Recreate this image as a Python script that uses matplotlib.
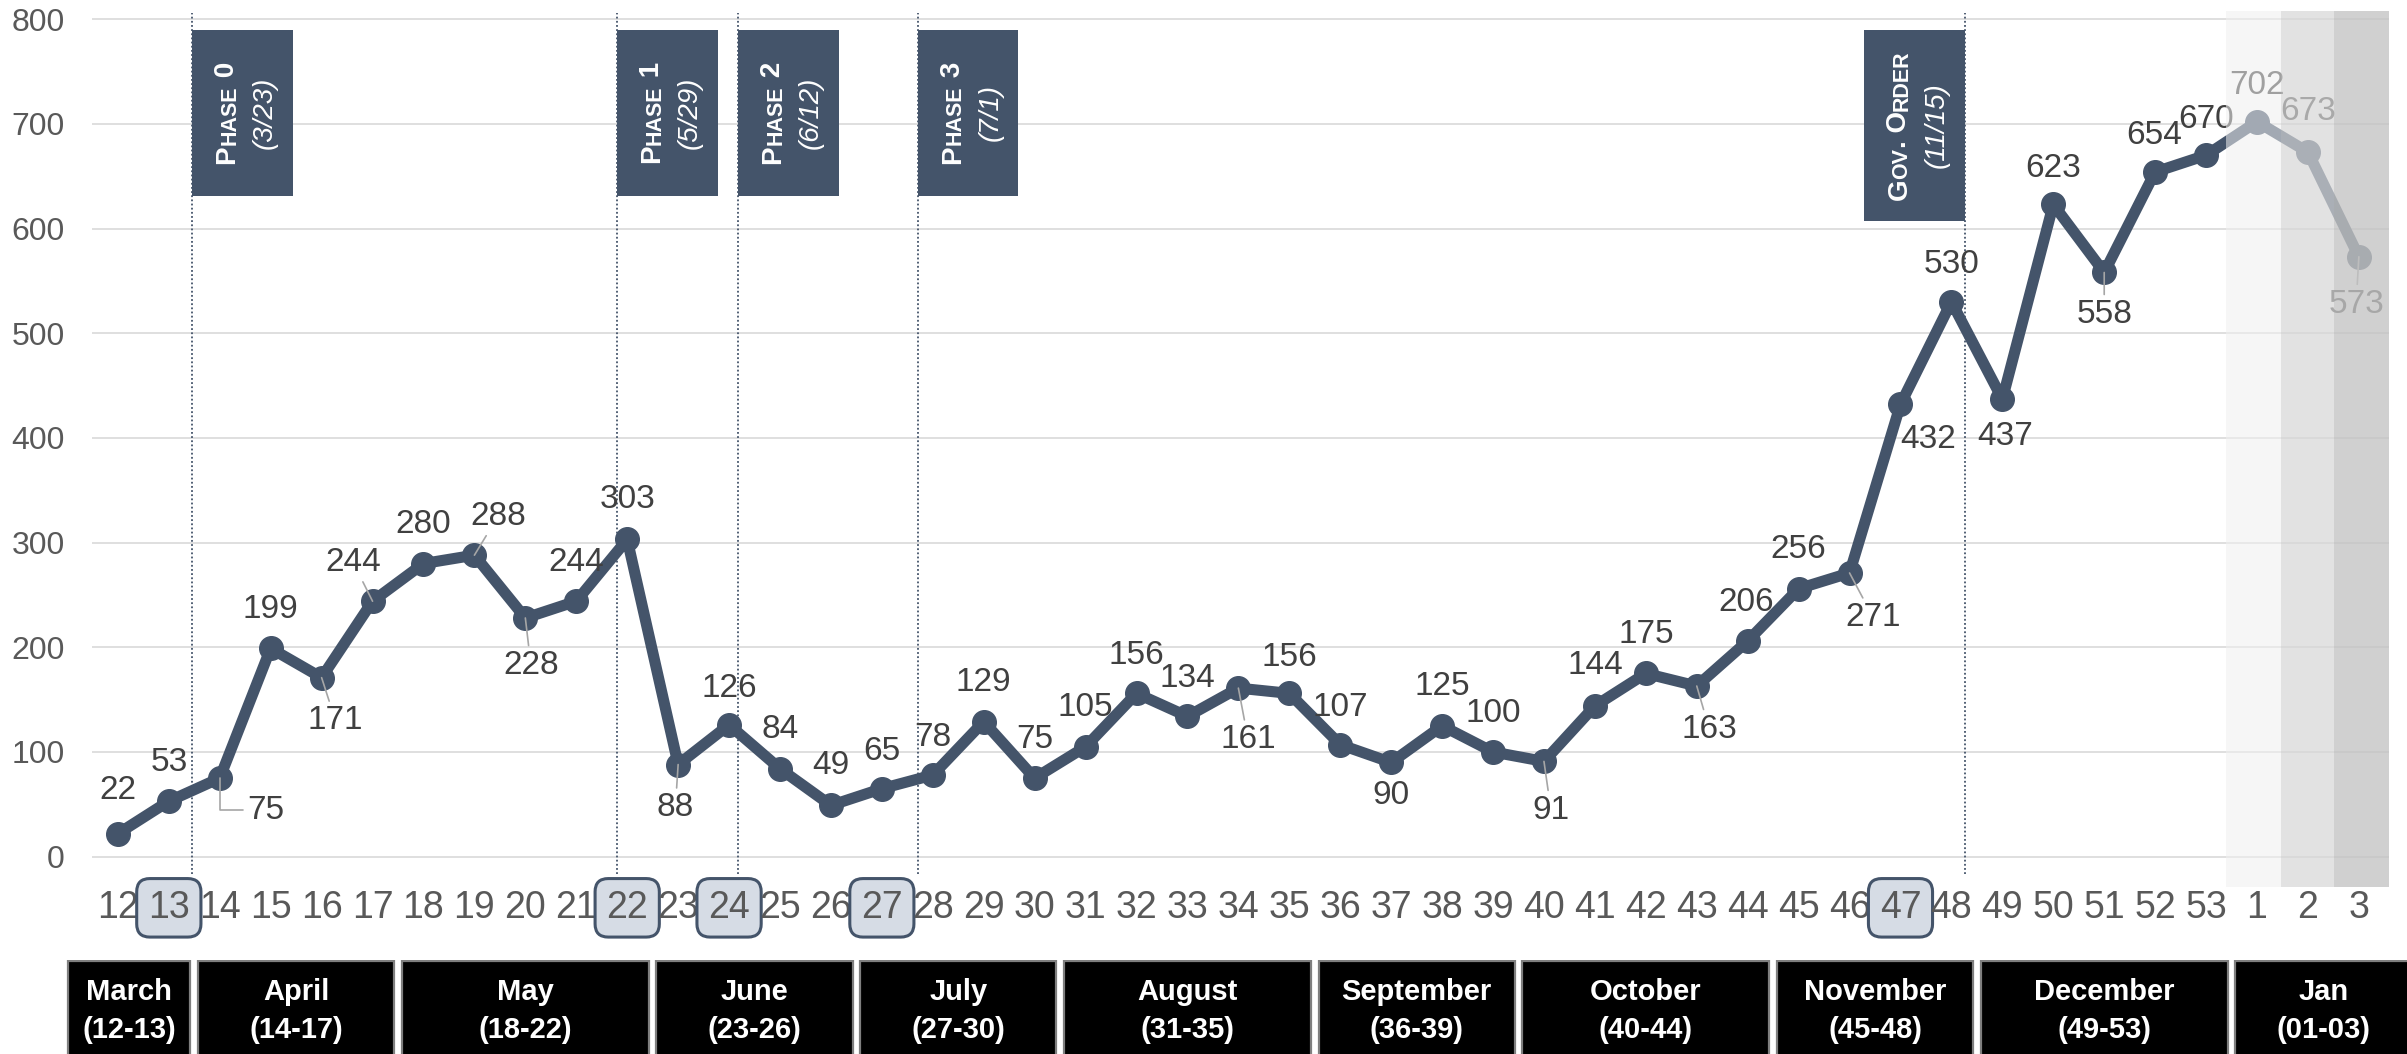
import matplotlib
matplotlib.use('Agg')
import matplotlib.pyplot as plt
from matplotlib.patches import Rectangle
import numpy as np

plt.rcParams['font.family'] = ['Liberation Sans', 'DejaVu Sans']

# weekly counts, weeks 12-53 of 2020 then weeks 1-3 of 2021
WEEKS = [str(w) for w in range(12, 54)] + ['1', '2', '3']
CASES = [22, 53, 75, 199, 171, 244, 280, 288, 228, 244,
         303, 88, 126, 84, 49, 65, 78, 129, 75, 105,
         156, 134, 161, 156, 107, 90, 125, 100, 91, 144,
         175, 163, 206, 256, 271, 432, 530, 437, 623, 558,
         654, 670, 702, 673, 573]
HIGHLIGHT_WEEKS = ['13', '22', '24', '27', '47']
INCOMPLETE_WEEKS = 3  # last weeks greyed out

MONTHS = ['March', 'April', 'May', 'June', 'July', 'August', 'September',
          'October', 'November', 'December', 'Jan']
MONTH_RANGES = ['(12-13)', '(14-17)', '(18-22)', '(23-26)', '(27-30)', '(31-35)',
                '(36-39)', '(40-44)', '(45-48)', '(49-53)', '(01-03)']
MONTH_WEEKS = [2, 4, 5, 4, 4, 5, 4, 5, 4, 5, 3]

PHASES = ['Phase 0', 'Phase 1', 'Phase 2', 'Phase 3', 'Gov. Order']
PHASE_DATES = ['(3/23)', '(5/29)', '(6/12)', '(7/1)', '(11/15)']
PHASE_POS = [1.46, 9.8, 12.18, 15.7, 36.27]   # on the week axis

SLATE = '#44546a'
GRID = '#d9d9d9'
TICK = '#595959'
LABEL = '#404040'

# label placement (points) and which labels get a leader line
LABEL_OFFSETS = [(0, 31), (0, 28), (33, -23), (0, 28), (10, -31), (-14, 28), (0, 28), (17, 28),
                 (4, -34), (0, 28), (0, 29), (-2, -31), (0, 26), (0, 28), (0, 29), (0, 27),
                 (0, 27), (0, 28), (0, 28), (0, 28), (0, 27), (0, 27), (7, -37), (0, 26),
                 (0, 27), (0, -24), (0, 28), (0, 28), (5, -35), (0, 29), (0, 28), (9, -31),
                 (-1, 28), (0, 28), (17, -32), (20, -25), (0, 27), (2, -27), (0, 26), (0, -30),
                 (-1, 26), (0, 26), (0, 26), (0, 29), (-2, -34)]
LEADERS = {2, 4, 5, 7, 8, 11, 22, 28, 31, 34, 39, 44}

fig = plt.figure(figsize=(24.07, 10.54), dpi=100)
ax = fig.add_axes([0.0384, 0.1584, 0.9543, 0.8314])

x = np.arange(len(CASES))
ax.plot(x, CASES, color=SLATE, lw=8, marker='o', ms=17, zorder=3,
        solid_joinstyle='round')

ax.set_xlim(-0.5, 44.6)
ax.set_ylim(-29, 808)
ax.set_yticks(range(0, 801, 100))
ax.grid(axis='y', color=GRID, lw=1.2)
ax.set_axisbelow(True)
for sp in ax.spines.values():
    sp.set_visible(False)
ax.tick_params(axis='y', length=0, pad=20, labelsize=23, labelcolor=TICK)
ax.set_xticks(x)
ax.set_xticklabels(WEEKS)
ax.tick_params(axis='x', length=0, pad=2, labelsize=27, labelcolor=TICK)
for lbl in ax.get_xticklabels():
    if lbl.get_text() in HIGHLIGHT_WEEKS:
        lbl.set_bbox(dict(boxstyle='round,pad=0.3,rounding_size=0.35',
                          fc='#d6dce5', ec=SLATE, lw=2.2))

# data labels
for i, (v, off) in enumerate(zip(CASES, LABEL_OFFSETS)):
    arrow = None
    if i in LEADERS:
        conn = 'angle,angleA=0,angleB=90,rad=0' if i == 2 else 'arc3'
        arrow = dict(arrowstyle='-', color='#a6a6a6', lw=1.2, shrinkA=1, shrinkB=0,
                     connectionstyle=conn)
    ax.annotate(str(v), (i, v), xytext=off, textcoords='offset points',
                ha='center', va='center', fontsize=24, color=LABEL, zorder=4,
                arrowprops=arrow)

# grey veil over the incomplete weeks
edges = [41.4, 42.47, 43.51, 44.6]
veils = [('#f0f0f0', 0.55), ('#d7d7d7', 0.70), ('#c4c4c4', 0.79)]
for k, (c, a) in enumerate(veils[:INCOMPLETE_WEEKS]):
    ax.axvspan(edges[k], edges[k + 1], color=c, alpha=a, lw=0, zorder=5)

# phase markers
ax.vlines(PHASE_POS, -17, 806, colors=SLATE, linestyles=(0, (1, 1.3)), lw=1.3, zorder=2)


def smallcaps_chain(ax, s, big, small, **kw):
    runs = []
    for ch in s:
        low = ch.islower()
        if runs and runs[-1][1] == low:
            runs[-1][0] += ch.upper()
        else:
            runs.append([ch.upper(), low])
    pieces = []
    prev = None
    for txt, low in runs:
        size = small if low else big
        if prev is None:
            t = ax.annotate(txt, xy=(0, 0), xycoords='data', xytext=(0, 0),
                            textcoords='offset points', rotation=90, ha='right',
                            va='bottom', fontsize=size, **kw)
        else:
            t = ax.annotate(txt, xy=(1, 1), xycoords=prev, rotation=90,
                            ha='right', va='bottom', fontsize=size, **kw)
        pieces.append(t)
        prev = t
    return pieces


box_w = 1.98
box_top = 790
chains = []
for name, date, pos in zip(PHASES, PHASE_DATES, PHASE_POS):
    gov = name.startswith('Gov')
    left = pos - box_w if gov else pos
    bottom = 607 if gov else 631
    ax.add_patch(Rectangle((left, bottom), box_w, box_top - bottom, fc=SLATE,
                           ec='none', zorder=6))
    cx = left + box_w / 2
    cy = (bottom + box_top) / 2
    ax.text(cx + 0.44, cy, date, rotation=90, ha='center', va='center', fontsize=20,
            style='italic', color='white', zorder=7)
    pieces = smallcaps_chain(ax, name, 20, 15.5, fontweight='bold', color='white', zorder=7)
    chains.append((pieces, cx - 0.3, cy))

# centre the small-caps chains in their boxes
fig.canvas.draw()
r = fig.canvas.get_renderer()
for pieces, cx, cy in chains:
    bbs = [p.get_window_extent(r) for p in pieces]
    x0 = min(b.x0 for b in bbs); x1 = max(b.x1 for b in bbs)
    y0 = min(b.y0 for b in bbs); y1 = max(b.y1 for b in bbs)
    tx, ty = ax.transData.transform((cx, cy))
    dx = tx - (x0 + x1) / 2
    dy = ty - (y0 + y1) / 2
    pieces[0].xyann = (dx * 72 / fig.dpi, dy * 72 / fig.dpi)

# month strip
L, W = 0.0384, 0.9543
xlo, xhi = ax.get_xlim()
per = (xhi - xlo) / W
mx = fig.add_axes([0, 0, 1, 0.0892])
mx.set_xlim(xlo - L * per, xlo + (1 - L) * per)
mx.set_ylim(0, 1)
mx.axis('off')
start = 0
gap = 0.075
for k, (m, rng, cnt) in enumerate(zip(MONTHS, MONTH_RANGES, MONTH_WEEKS)):
    a = start - 0.5 + gap
    b = start + cnt - 0.5 - gap
    if k == 0:
        a -= 0.55
    if k == len(MONTHS) - 1:
        b += 0.6
    mx.add_patch(Rectangle((a, -0.2), b - a, 1.185, fc='black', ec='#7f7f7f', lw=1.6))
    c = (a + b) / 2
    mx.text(c, 0.66, m, ha='center', va='center', fontsize=21, fontweight='bold',
            color='white')
    mx.text(c, 0.25, rng, ha='center', va='center', fontsize=21, fontweight='bold',
            color='white')
    start += cnt

fig.savefig('out.png', dpi=100)
